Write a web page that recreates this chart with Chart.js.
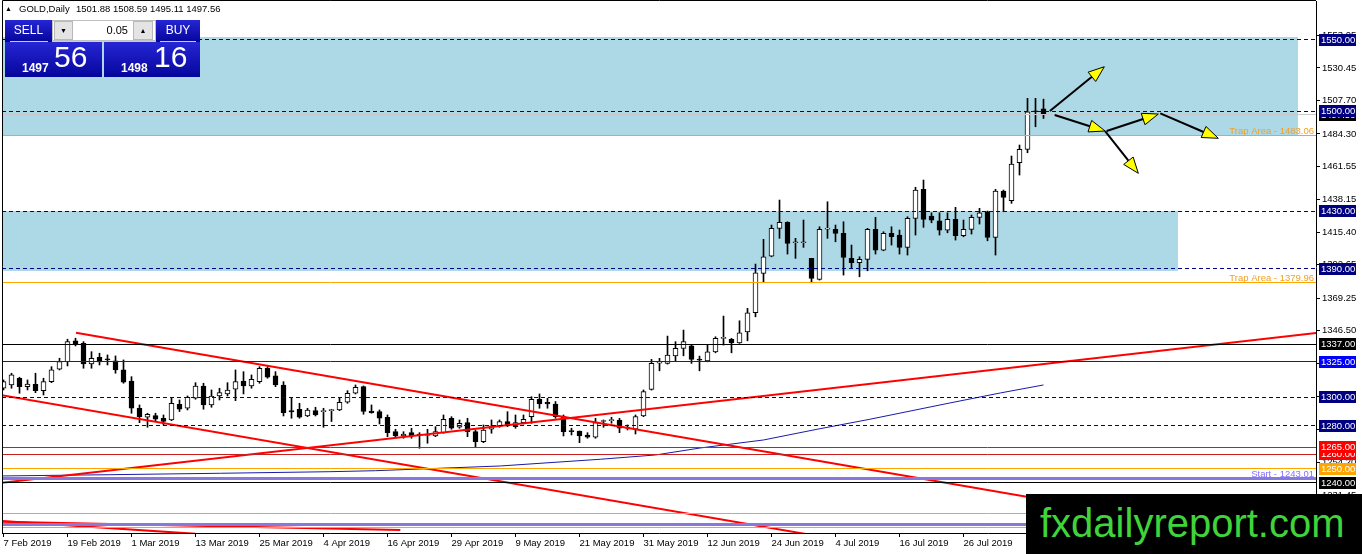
<!DOCTYPE html>
<html>
<head>
<meta charset="utf-8">
<title>GOLD,Daily</title>
<script src="https://cdn.jsdelivr.net/npm/chart.js@4.4.1/dist/chart.umd.min.js"></script>
<style>
  html, body { margin: 0; padding: 0; background: #fff; overflow: hidden; }
  #wrap { position: relative; width: 1362px; height: 554px; font-family: "Liberation Sans", Arial, sans-serif; }
  #chart { position: absolute; left: 0; top: 0; }
  .abs { position: absolute; box-sizing: border-box; white-space: nowrap; }
  .blue { background: linear-gradient(#2626d4, #05059c); color: #fff; }
  .hdr { font-size: 9.5px; line-height: 11px; top: 3px; color: #000; }
  .btn { font-size: 12px; line-height: 21px; text-align: center; }
  .spinbtn { background: #e4e4e4; border: 1px solid #b8b8b8; font-size: 7px; line-height: 17px; text-align: center; color: #000; }
  #wm { left: 1026px; top: 494px; width: 336px; height: 60px; background: #000; }
  #wm span { position: absolute; left: 14px; top: 9px; font-size: 40px; line-height: 40px; color: #3fd43a; }
</style>
</head>
<body>
<div id="wrap">
  <canvas id="chart" width="1362" height="554"></canvas>

  <div class="abs hdr" style="left:5px;font-size:7px;">▲</div>
  <div class="abs hdr" style="left:19px;">GOLD,Daily</div>
  <div class="abs hdr" style="left:76px;">1501.88 1508.59 1495.11 1497.56</div>

  <div class="abs blue btn" style="left:5px;top:20px;width:47px;height:22px;">SELL</div>
  <div class="abs" style="left:10px;top:41px;width:38px;height:1px;background:#c8c8f0;"></div>
  <div class="abs" style="left:52px;top:20px;width:104px;height:21px;background:#fff;border:1px solid #c0c0c0;"></div>
  <div class="abs spinbtn" style="left:54px;top:21px;width:19px;height:19px;">▼</div>
  <div class="abs" style="left:74px;top:21px;width:54px;height:19px;font-size:11px;line-height:19px;text-align:right;">0.05</div>
  <div class="abs spinbtn" style="left:133px;top:21px;width:20px;height:19px;">▲</div>
  <div class="abs blue btn" style="left:156px;top:20px;width:44px;height:22px;">BUY</div>
  <div class="abs" style="left:160px;top:41px;width:36px;height:1px;background:#c8c8f0;"></div>

  <div class="abs blue" style="left:5px;top:42px;width:97px;height:35px;">
    <span class="abs" style="left:17px;top:19px;font-size:12px;font-weight:bold;line-height:14px;">1497</span>
    <span class="abs" style="left:49px;top:-2px;font-size:30px;line-height:34px;">56</span>
  </div>
  <div class="abs blue" style="left:104px;top:42px;width:96px;height:35px;">
    <span class="abs" style="left:17px;top:19px;font-size:12px;font-weight:bold;line-height:14px;">1498</span>
    <span class="abs" style="left:50px;top:-2px;font-size:30px;line-height:34px;">16</span>
  </div>

  <div id="wm" class="abs"><span>fxdailyreport.com</span></div>
</div>

<script>
// daily candles, one entry per trading day starting 7 Feb 2019
const opens = [1306.3,1308.6,1313.3,1307.4,1309.1,1304.6,1310.9,1319.6,1324.9,1339.4,
  1337.8,1323.3,1328.0,1326.2,1325.4,1319.1,1311.4,1292.3,1286.0,1287.1,
  1285.3,1284.1,1295.1,1292.3,1299.3,1307.9,1294.6,1300.9,1302.3,1305.6,
  1311.4,1307.9,1310.9,1320.3,1314.9,1308.6,1290.6,1291.6,1286.9,1290.6,
  1289.9,1290.6,1291.1,1296.5,1302.8,1307.4,1290.4,1290.0,1286.0,1275.9,
  1272.9,1275.2,1273.7,1273.2,1272.9,1275.2,1285.3,1279.0,1282.2,1275.9,
  1268.9,1277.6,1279.9,1282.9,1279.4,1282.2,1286.4,1298.6,1296.5,1295.3,
  1286.4,1276.0,1276.4,1273.6,1272.0,1283.0,1283.6,1284.1,1278.3,1277.6,
  1286.9,1305.5,1323.9,1323.7,1329.0,1334.2,1336.0,1326.5,1325.5,1331.8,
  1341.2,1340.5,1338.1,1345.8,1359.1,1386.7,1398.8,1418.2,1422.4,1408.1,
  1408.1,1397.2,1382.5,1417.7,1417.5,1414.7,1397.2,1394.1,1396.5,1417.5,
  1403.0,1414.7,1413.5,1404.9,1425.2,1445.5,1426.8,1423.5,1417.0,1424.5,
  1413.0,1417.5,1425.9,1429.8,1411.9,1444.3,1437.5,1464.1,1473.5,1500.2,
  1501.88];
const highs = [1312.1,1316.8,1314.0,1312.1,1316.8,1313.3,1321.4,1327.3,1340.6,1341.3,
  1338.9,1331.9,1330.8,1329.6,1328.9,1326.1,1314.4,1294.6,1288.8,1288.8,
  1287.6,1299.3,1298.1,1300.9,1310.2,1309.8,1305.1,1306.3,1310.2,1319.1,
  1317.9,1315.6,1321.4,1321.4,1317.9,1310.9,1299.3,1295.8,1292.3,1293.0,
  1292.3,1291.6,1299.3,1304.6,1308.6,1307.9,1294.6,1291.1,1287.6,1277.6,
  1275.9,1278.3,1275.2,1277.6,1279.4,1287.6,1286.4,1284.1,1285.3,1277.1,
  1280.6,1284.1,1284.1,1289.9,1287.6,1287.6,1300.4,1302.3,1299.3,1297.0,
  1287.6,1278.3,1276.4,1275.2,1285.3,1284.1,1286.0,1285.3,1280.6,1287.6,
  1305.1,1326.5,1327.2,1342.8,1338.9,1347.0,1336.5,1328.8,1337.0,1342.3,
  1356.8,1341.2,1353.5,1362.2,1393.2,1410.5,1420.5,1438.0,1422.8,1411.2,
  1424.0,1397.2,1419.3,1436.8,1420.5,1422.8,1406.5,1398.3,1418.2,1425.9,
  1415.8,1419.3,1417.0,1426.3,1446.9,1452.0,1429.1,1429.1,1429.1,1432.9,
  1424.0,1427.5,1432.2,1430.3,1445.5,1445.0,1468.8,1476.5,1509.2,1509.2,
  1508.59];
const lows = [1305.1,1306.3,1302.8,1305.1,1303.2,1301.6,1310.2,1319.1,1321.9,1335.9,
  1320.3,1320.3,1322.6,1322.6,1316.8,1309.8,1288.8,1282.2,1279.0,1282.9,
  1280.6,1283.6,1290.0,1291.1,1298.6,1291.6,1293.0,1298.1,1300.9,1297.6,
  1302.3,1306.3,1309.8,1313.3,1307.4,1286.9,1285.3,1285.3,1286.4,1286.9,
  1279.0,1283.0,1290.6,1295.8,1302.3,1288.1,1288.8,1281.3,1272.4,1272.0,
  1271.3,1271.3,1264.3,1267.8,1272.4,1274.8,1277.6,1278.3,1272.4,1265.0,
  1268.2,1274.8,1279.0,1279.4,1278.3,1281.3,1281.8,1292.3,1292.3,1285.3,
  1272.9,1273.6,1268.2,1271.3,1271.3,1279.0,1281.8,1275.2,1277.1,1274.3,
  1286.4,1305.0,1318.5,1323.2,1325.5,1329.0,1323.7,1318.5,1324.8,1331.1,
  1336.5,1331.1,1337.7,1339.5,1356.3,1380.8,1398.3,1411.2,1400.2,1397.2,
  1404.9,1380.1,1382.0,1411.2,1408.8,1385.5,1390.2,1384.3,1388.5,1400.2,
  1402.5,1406.5,1400.2,1399.5,1413.5,1418.9,1422.1,1413.5,1415.1,1410.0,
  1412.3,1414.2,1421.2,1409.5,1399.5,1429.8,1435.7,1455.5,1471.1,1489.3,
  1495.11];
const closes = [1310.9,1315.6,1307.4,1309.3,1304.6,1310.9,1319.1,1324.9,1338.9,1337.3,
  1323.3,1327.3,1324.7,1326.1,1319.1,1310.5,1292.3,1286.4,1288.1,1284.6,
  1283.0,1295.8,1291.6,1300.0,1307.9,1294.6,1300.9,1303.2,1305.1,1310.9,
  1307.9,1312.6,1320.3,1314.0,1308.6,1289.2,1289.7,1286.0,1291.1,1287.6,
  1290.6,1290.7,1296.5,1302.8,1307.0,1290.0,1289.2,1285.3,1275.2,1272.9,
  1274.3,1272.9,1273.6,1273.6,1275.9,1284.6,1278.3,1281.8,1275.9,1268.9,
  1277.1,1279.9,1282.9,1279.9,1282.2,1284.6,1298.6,1295.3,1295.3,1286.4,
  1275.9,1275.9,1272.9,1272.0,1282.2,1283.0,1283.6,1278.3,1278.3,1286.4,
  1303.9,1323.7,1324.2,1329.5,1334.2,1338.9,1326.5,1326.0,1331.8,1341.2,
  1341.2,1338.1,1345.1,1359.1,1387.1,1398.3,1418.2,1422.4,1407.7,1408.1,
  1408.1,1383.2,1417.5,1417.7,1414.7,1397.9,1394.1,1396.5,1417.5,1403.0,
  1414.7,1412.3,1404.9,1425.2,1445.0,1424.5,1424.0,1417.0,1424.5,1413.0,
  1417.5,1425.9,1429.1,1411.9,1444.3,1439.9,1463.2,1473.5,1499.8,1499.8,
  1497.56];

// date axis: one label every 8 bars
const tickBars = [0, 8, 16, 24, 32, 40, 48, 56, 64, 72, 80, 88, 96, 104, 112, 120];
const tickLabels = ['7 Feb 2019', '19 Feb 2019', '1 Mar 2019', '13 Mar 2019', '25 Mar 2019',
  '4 Apr 2019', '16 Apr 2019', '29 Apr 2019', '9 May 2019', '21 May 2019', '31 May 2019',
  '12 Jun 2019', '24 Jun 2019', '4 Jul 2019', '16 Jul 2019', '26 Jul 2019'];
const priceTicks = [1553.05, 1530.45, 1507.70, 1484.30, 1461.55, 1438.15, 1415.40, 1392.65,
  1369.25, 1346.50, 1323.75, 1300.35, 1277.60, 1254.20, 1231.45, 1208.70];

// slow moving average read at a few bars
const maBars = [-0.5, 13.3, 27.1, 40.8, 46.5, 62.1, 74.6, 81.5, 87.1, 95, 101.7, 108.3, 118.3, 124.6, 130];
const maValues = [1244.9, 1245.8, 1246.8, 1247.9, 1248.6, 1251.9, 1256.6, 1259.6, 1264.5, 1270.1,
  1277.6, 1284.6, 1296.0, 1303.0, 1308.6];

// drawn objects: [bar1, price1, bar2, price2]
const trendLines = [
  [-0.5, 1240.0, 164.1, 1345.0],
  [9.06, 1345.2, 164.1, 1195.4],
  [-0.5, 1301.7, 110, 1194.9],
  [-0.5, 1213.6, 24, 1204.4],
  [-0.5, 1212.9, 49.6, 1207.1]
];
const arrows = [
  [130.8, 1500.3, 137.6, 1531.3],
  [131.4, 1497.5, 137.7, 1486.3],
  [137.7, 1486.3, 141.85, 1456.7],
  [137.9, 1486.3, 144.35, 1498.2],
  [144.6, 1498.7, 151.85, 1481.2]
];
// zones: [fromBar, toBar, lowPrice, highPrice]
const zones = [
  [-2, 161.8, 1483.06, 1552.3],
  [-2, 146.8, 1388.0, 1430.4]
];

const dashLevels = [1550, 1500, 1430, 1390, 1300, 1280];
const trapLevels = [1483.06, 1379.96];
const blackLevels = [1337, 1240];
const blueLevels = [1325];
const redLevels = [1260, 1265];
const orangeLevels = [1250, 1218.8, 1209.0];
const purpleLevels = [1243.01, 1210.6];
const startLevel = 1243.01;
const bidPrice = 1497.56;

Chart.defaults.font.family = '"Liberation Sans", Arial, sans-serif';
Chart.defaults.color = '#000';

const FONT = '9.5px "Liberation Sans", Arial, sans-serif';

function crisp(v) { return Math.floor(v) + 0.5; }

function hLine(c, area, y, color, width, dash) {
  const yy = width % 2 ? crisp(y) : Math.round(y);
  c.save();
  c.strokeStyle = color;
  c.lineWidth = width;
  c.setLineDash(dash || []);
  c.beginPath();
  c.moveTo(area.left, yy);
  c.lineTo(area.right, yy);
  c.stroke();
  c.restore();
}

function arrow(c, x1, y1, x2, y2) {
  const ang = Math.atan2(y2 - y1, x2 - x1);
  const len = 16, half = 6;
  const bx = x2 - Math.cos(ang) * len, by = y2 - Math.sin(ang) * len;
  c.save();
  c.strokeStyle = '#000';
  c.lineWidth = 2;
  c.beginPath();
  c.moveTo(x1, y1);
  c.lineTo(bx, by);
  c.stroke();
  c.beginPath();
  c.moveTo(x2, y2);
  c.lineTo(bx + Math.sin(ang) * half, by - Math.cos(ang) * half);
  c.lineTo(bx - Math.sin(ang) * half, by + Math.cos(ang) * half);
  c.closePath();
  c.fillStyle = '#ffff00';
  c.fill();
  c.lineWidth = 1;
  c.stroke();
  c.restore();
}

const objects = {
  id: 'objects',
  beforeDatasetsDraw(chart) {
    const c = chart.ctx, a = chart.chartArea, xs = chart.scales.x, ys = chart.scales.y;
    c.save();
    c.beginPath(); c.rect(a.left, a.top, a.right - a.left, a.bottom - a.top); c.clip();
    c.fillStyle = '#add8e6';
    zones.forEach(([b1, b2, lo, hi]) => {
      const x1 = Math.round(xs.getPixelForValue(b1)), x2 = Math.round(xs.getPixelForValue(b2));
      const y1 = Math.round(ys.getPixelForValue(hi)), y2 = Math.round(ys.getPixelForValue(lo));
      c.fillRect(x1, y1, x2 - x1, y2 - y1);
    });
    c.restore();
  },
  afterDatasetsDraw(chart) {
    const c = chart.ctx, a = chart.chartArea, xs = chart.scales.x, ys = chart.scales.y;
    c.save();
    c.beginPath(); c.rect(a.left, a.top, a.right - a.left, a.bottom - a.top); c.clip();
    hLine(c, a, ys.getPixelForValue(bidPrice), '#c8c8c8', 1);
    dashLevels.forEach(p => hLine(c, a, ys.getPixelForValue(p), '#000080', 1, [4, 3]));
    blackLevels.forEach(p => hLine(c, a, ys.getPixelForValue(p), '#000000', 1));
    blueLevels.forEach(p => hLine(c, a, ys.getPixelForValue(p), '#1414b4', 1));
    redLevels.forEach(p => hLine(c, a, ys.getPixelForValue(p), '#c81e1e', 1));
    orangeLevels.forEach(p => hLine(c, a, ys.getPixelForValue(p), '#ffa500', 1));
    purpleLevels.forEach(p => hLine(c, a, ys.getPixelForValue(p), '#8878dc', 3));
    trapLevels.forEach(p => hLine(c, a, ys.getPixelForValue(p), '#ffa500', 1));

    c.font = FONT;
    c.textAlign = 'right';
    c.textBaseline = 'alphabetic';
    c.fillStyle = '#f0a028';
    trapLevels.forEach(p => c.fillText('Trap Area - ' + p.toFixed(2), a.right - 2, ys.getPixelForValue(p) - 2));
    c.fillStyle = '#8470ff';
    c.fillText('Start - ' + startLevel.toFixed(2), a.right - 2, ys.getPixelForValue(startLevel) - 2);

    arrows.forEach(([b1, p1, b2, p2]) => arrow(c,
      xs.getPixelForValue(b1), ys.getPixelForValue(p1),
      xs.getPixelForValue(b2), ys.getPixelForValue(p2)));
    c.restore();
  },
  afterDraw(chart) {
    const c = chart.ctx, a = chart.chartArea, ys = chart.scales.y;
    const boxes = [
      [bidPrice, '#000000'],
      ...dashLevels.map(p => [p, '#000080']),
      [1337, '#000000'], [1325, '#0000ff'],
      [1260, '#ff0000'], [1265, '#ff0000'],
      [1250, '#ffa500'], [1240, '#000000']
    ];
    c.save();
    c.font = FONT;
    c.textAlign = 'left';
    c.textBaseline = 'middle';
    boxes.forEach(([p, bg]) => {
      const y = Math.round(ys.getPixelForValue(p));
      c.fillStyle = bg;
      c.fillRect(ys.left + 3, y - 6, 37, 12);
      c.fillStyle = '#fff';
      c.fillText(p.toFixed(2), ys.left + 5, y + 0.5);
    });
    // chart frame
    c.strokeStyle = '#000';
    c.lineWidth = 1;
    c.beginPath();
    c.moveTo(a.left + 0.5, a.bottom);
    c.lineTo(a.left + 0.5, 0.5);
    c.lineTo(a.right, 0.5);
    c.stroke();
    c.restore();
  }
};

const idx = opens.map((_, i) => i);
const isUp = idx.map(i => closes[i] >= opens[i]);

new Chart(document.getElementById('chart'), {
  type: 'bar',
  data: {
    datasets: [
      ...trendLines.map(([b1, p1, b2, p2]) => ({
        type: 'line',
        data: [{ x: b1, y: p1 }, { x: b2, y: p2 }],
        borderColor: '#ff0000',
        borderWidth: 2,
        pointRadius: 0,
        order: 0
      })),
      {
        type: 'line',
        data: maBars.map((b, i) => ({ x: b, y: maValues[i] })),
        borderColor: '#1a1aa8',
        borderWidth: 1,
        pointRadius: 0,
        order: 0
      },
      {
        label: 'body',
        data: idx.map(i => ({ x: i, y: [opens[i], closes[i]] })),
        backgroundColor: isUp.map(u => (u ? '#ffffff' : '#000000')),
        borderColor: '#000',
        borderWidth: 1,
        borderSkipped: false,
        barThickness: 5,
        minBarLength: 1,
        grouped: false,
        order: 1
      },
      {
        label: 'wick',
        data: idx.map(i => ({ x: i, y: [lows[i], highs[i]] })),
        backgroundColor: '#000',
        borderWidth: 0,
        barThickness: 1,
        grouped: false,
        order: 2
      }
    ]
  },
  options: {
    responsive: false,
    animation: false,
    devicePixelRatio: 1,
    layout: { padding: { left: 2, top: 1, right: 0, bottom: 0 } },
    plugins: { legend: { display: false }, tooltip: { enabled: false } },
    scales: {
      x: {
        type: 'linear',
        min: -0.1875,
        max: 164.0625,
        offset: false,
        grid: { offset: false, drawOnChartArea: false, tickLength: 4, color: '#000' },
        border: { color: '#000' },
        ticks: {
          autoSkip: false,
          maxRotation: 0,
          align: 'start',
          padding: 1,
          color: '#000',
          font: { size: 9.5 },
          callback: v => tickLabels[tickBars.indexOf(v)] || ''
        },
        afterBuildTicks: s => { s.ticks = tickBars.map(v => ({ value: v })); },
        afterFit: s => { s.height = 21; s.paddingLeft = 0; s.paddingRight = 0; }
      },
      y: {
        type: 'linear',
        position: 'right',
        min: 1205.0,
        max: 1577.29,
        grid: { drawOnChartArea: false, tickLength: 4, color: '#000' },
        border: { color: '#000' },
        ticks: { padding: 2, color: '#000', font: { size: 9.5 }, callback: v => v.toFixed(2) },
        afterBuildTicks: s => { s.ticks = priceTicks.map(v => ({ value: v })); },
        afterFit: s => { s.width = 46; s.paddingTop = 0; s.paddingBottom = 0; }
      }
    }
  },
  plugins: [objects]
});
</script>
</body>
</html>
